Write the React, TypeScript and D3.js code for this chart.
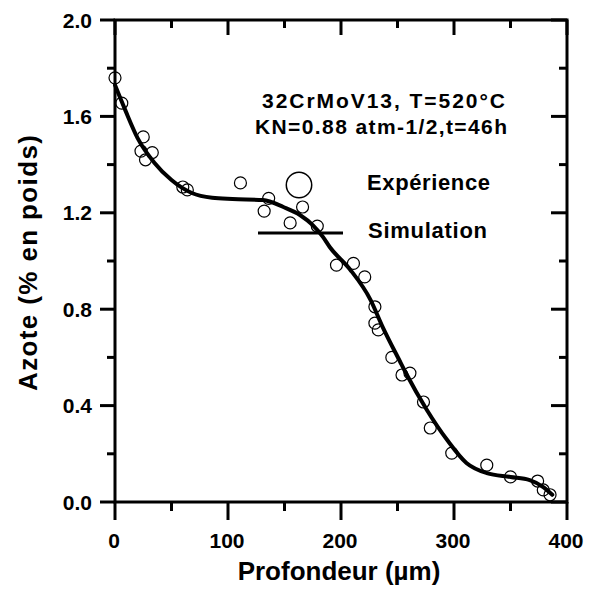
import React from "react";
import * as d3 from "d3";

// Experimental points: depth (µm), nitrogen (% wt)
const expDepth = [0, 6, 25, 23, 33, 27, 60, 64, 111, 132, 136, 155, 166, 179, 196, 211, 221, 230, 230, 233, 245, 254, 261, 273, 279, 298, 329, 350, 374, 379, 385];
const expN = [1.76, 1.655, 1.515, 1.456, 1.45, 1.42, 1.307, 1.295, 1.324, 1.207, 1.26, 1.158, 1.224, 1.145, 0.983, 0.99, 0.934, 0.81, 0.742, 0.714, 0.6, 0.527, 0.535, 0.415, 0.307, 0.203, 0.153, 0.104, 0.087, 0.05, 0.03];

// Simulation curve
const simDepth = [0, 9, 20, 35, 50, 68, 86, 104, 131, 149, 164, 175, 184, 190, 208, 226, 237, 252, 258, 276, 294, 311, 329, 350, 367, 379, 387];
const simN = [1.73, 1.627, 1.51, 1.407, 1.336, 1.282, 1.262, 1.257, 1.253, 1.224, 1.19, 1.149, 1.1, 1.058, 0.965, 0.84, 0.725, 0.585, 0.53, 0.382, 0.257, 0.162, 0.12, 0.104, 0.091, 0.062, 0.03];

const xTicks = [0, 100, 200, 300, 400];
const xMinor = [50, 150, 250, 350];
const yTicks = [0, 0.4, 0.8, 1.2, 1.6, 2.0];
const yMinor = [0.2, 0.6, 1.0, 1.4, 1.8];

const annot1 = "32CrMoV13, T=520°C";
const annot2 = "KN=0.88 atm-1/2,t=46h";
const legendExp = "Expérience";
const legendSim = "Simulation";
const xTitle = "Profondeur (µm)";
const yTitle = "Azote (% en poids)";

const W = 591, H = 590;
const L = 115, R = 567, T = 20, B = 502;
const FONT = "'Liberation Sans', Arial, sans-serif";

export default function App() {
  const x = d3.scaleLinear().domain([0, 400]).range([L, R]);
  const y = d3.scaleLinear().domain([0, 2]).range([B, T]);
  const line = d3
    .line<number>()
    .x((_, i) => x(simDepth[i]))
    .y((d) => y(d))
    .curve(d3.curveMonotoneX);
  const sw = 3;
  return (
    <svg
      width={W}
      height={H}
      style={{ position: "absolute", left: 0, top: 0, background: "#fff" }}
      fontFamily={FONT}
      fontWeight="bold"
    >
      <rect x={0} y={0} width={W} height={H} fill="#fff" />
      {/* frame */}
      <rect x={L} y={T} width={R - L} height={B - T} fill="none" stroke="#000" strokeWidth={sw} />
      {/* left axis ticks (outward) */}
      {yTicks.map((t) => (
        <line key={"yl" + t} x1={L - 15} x2={L} y1={y(t)} y2={y(t)} stroke="#000" strokeWidth={sw} />
      ))}
      {yMinor.map((t) => (
        <line key={"ylm" + t} x1={L - 8} x2={L} y1={y(t)} y2={y(t)} stroke="#000" strokeWidth={sw} />
      ))}
      {/* right axis ticks (inward) */}
      {yTicks.map((t) => (
        <line key={"yr" + t} x1={R - 16} x2={R} y1={y(t)} y2={y(t)} stroke="#000" strokeWidth={sw} />
      ))}
      {yMinor.map((t) => (
        <line key={"yrm" + t} x1={R - 8} x2={R} y1={y(t)} y2={y(t)} stroke="#000" strokeWidth={sw} />
      ))}
      {/* bottom axis ticks (outward) */}
      {xTicks.map((t) => (
        <line key={"xb" + t} x1={x(t)} x2={x(t)} y1={B} y2={B + 18} stroke="#000" strokeWidth={sw} />
      ))}
      {xMinor.map((t) => (
        <line key={"xbm" + t} x1={x(t)} x2={x(t)} y1={B} y2={B + 9} stroke="#000" strokeWidth={sw} />
      ))}
      {/* top axis ticks (inward) */}
      {xTicks.map((t) => (
        <line key={"xt" + t} x1={x(t)} x2={x(t)} y1={T} y2={T + 15} stroke="#000" strokeWidth={sw} />
      ))}
      {xMinor.map((t) => (
        <line key={"xtm" + t} x1={x(t)} x2={x(t)} y1={T} y2={T + 8} stroke="#000" strokeWidth={sw} />
      ))}
      {/* tick labels */}
      {yTicks.map((t) => (
        <text key={"yt" + t} x={92} y={y(t) + 7.5} textAnchor="end" fontSize={21}>
          {t.toFixed(1)}
        </text>
      ))}
      {xTicks.map((t) => (
        <text key={"xtl" + t} x={x(t) - 1} y={548} textAnchor="middle" fontSize={21}>
          {t}
        </text>
      ))}
      {/* axis titles */}
      <text x={339} y={580} textAnchor="middle" fontSize={26}>
        {xTitle}
      </text>
      <text
        transform={`translate(37,263) rotate(-90)`}
        textAnchor="middle"
        fontSize={26}
        textLength={256}
        lengthAdjust="spacing"
      >
        {yTitle}
      </text>
      {/* simulation curve */}
      <path d={line(simN) || ""} fill="none" stroke="#000" strokeWidth={4} strokeLinejoin="round" strokeLinecap="round" />
      {/* experimental points */}
      {expDepth.map((d, i) => (
        <circle key={"p" + i} cx={x(d)} cy={y(expN[i])} r={6} fill="none" stroke="#000" strokeWidth={1.2} />
      ))}
      {/* annotation */}
      <text x={262} y={108} fontSize={21} textLength={243} lengthAdjust="spacing">
        {annot1}
      </text>
      <text x={255} y={134} fontSize={21} textLength={252} lengthAdjust="spacing">
        {annot2}
      </text>
      {/* legend */}
      <circle cx={299} cy={185} r={12.7} fill="none" stroke="#000" strokeWidth={1.5} />
      <text x={367} y={190} fontSize={22} textLength={123} lengthAdjust="spacing">
        {legendExp}
      </text>
      <line x1={258} x2={343} y1={233} y2={233} stroke="#000" strokeWidth={3} />
      <text x={368} y={238} fontSize={22} textLength={119} lengthAdjust="spacing">
        {legendSim}
      </text>
    </svg>
  );
}
